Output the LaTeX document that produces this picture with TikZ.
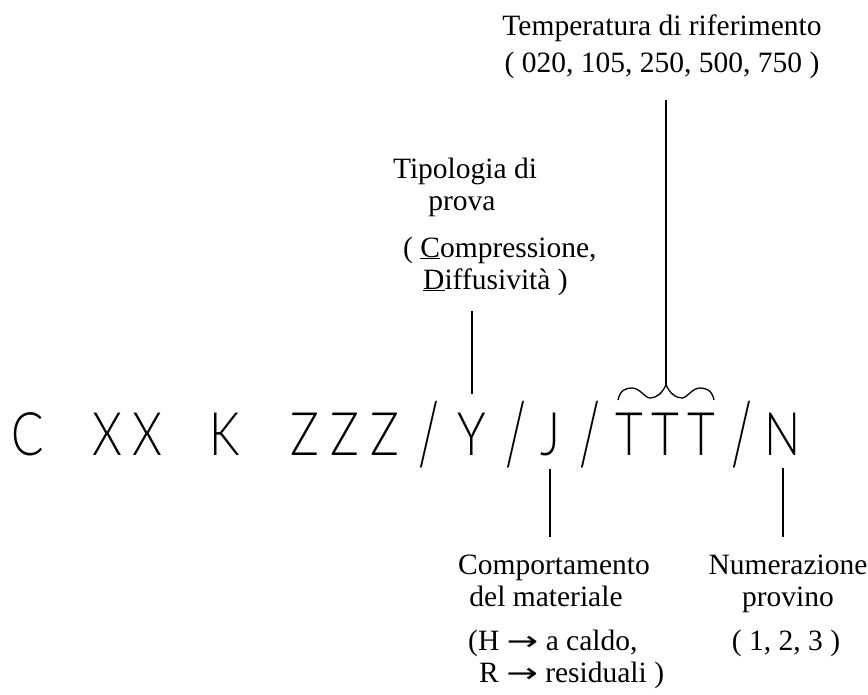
\documentclass[tikz,border=0pt]{standalone}
\usepackage{fontspec}
\usepackage{graphicx}
\setmainfont{Liberation Serif}
\newfontfamily\arrowfont{DejaVu Sans}
\IfFontExistsTF{Lato Light}
  {\newfontfamily\cadfont{Lato Light}[FakeStretch=0.8]}
  {\newfontfamily\cadfont{DejaVu Sans}[FakeStretch=0.7]}
\usetikzlibrary{calc}
\newcommand{\cadslash}{\raisebox{-9pt}{\scalebox{1}[1.45]{/}}}
\newcommand{\freccia}{{\arrowfont\fontsize{27}{32}\selectfont\scalebox{1.4}[1]{→}}}

\begin{document}
\begin{tikzpicture}[x=1pt, y=-1pt,
    cad/.style={font=\cadfont\fontsize{60}{60}\selectfont, inner sep=0pt, anchor=base},
    lbl/.style={font=\fontsize{29.5}{32}\selectfont, inner sep=0pt, anchor=base},
    lbll/.style={lbl, anchor=base west},
    lead/.style={line width=1.3pt}
  ]
  \useasboundingbox (0,0) rectangle (868,694);

  % --- codice del provino ---
  \node[cad] (c)  at (27.5,455) {C};
  \node[cad] (x1) at (107,455) {X};
  \node[cad] (x2) at (147,455) {X};
  \node[cad] (k)  at (225,455) {K};
  \node[cad] (z1) at (304.5,455) {Z};
  \node[cad] (z2) at (345,455) {Z};
  \node[cad] (z3) at (385,455) {Z};
  \node[cad] (s1) at (429,455) {\cadslash};
  \node[cad] (y)  at (472,455) {Y};
  \node[cad] (s2) at (516,455) {\cadslash};
  \node[cad] (j)  at (550,455) {J};
  \node[cad] (s3) at (590,455) {\cadslash};
  \node[cad] (t1) at (629,455) {T};
  \node[cad] (t2) at (665,455) {T};
  \node[cad] (t3) at (701.5,455) {T};
  \node[cad] (s4) at (741.5,455) {\cadslash};
  \node[cad] (n)  at (783,455) {N};

  % graffa sopra TTT
  \coordinate (tip) at (666,385);
  \draw[lead] (618,400) .. controls (620,390) and (626,388) .. (632,388)
    .. controls (640,388) and (645,398) .. (650,398)
    .. controls (657,398) and (662,393) .. (tip)
    .. controls (670,393) and (675,398) .. (682,398)
    .. controls (687,398) and (692,388) .. (700,388)
    .. controls (706,388) and (712,390) .. (714,400);

  % --- etichette ---
  \node[lbl] (temp) at (662,35) {Temperatura di riferimento};
  \node[lbl] (tempval) at (662,72) {( 020, 105, 250, 500, 750 )};

  \node[lbl] (tip1) at (465,178) {Tipologia di};
  \node[lbl] (tip2) at (462,210) {prova};
  \node[lbll] (tip3) at (403,257) {( \underline{C}ompressione,};
  \node[lbll] (tip4) at (423,289) {\underline{D}iffusività )};

  \node[lbl] (comp1) at (554,574) {Comportamento};
  \node[lbl] (comp2) at (546,606) {del materiale};
  \node[lbll] (comp3) at (468,650) {(H \freccia{} a caldo,};
  \node[lbll] (comp4) at (479,682) {R \freccia{} residuali )};

  \node[lbl] (num1) at (788,574) {Numerazione};
  \node[lbl] (num2) at (788,606) {provino};
  \node[lbl] (num3) at (786,650) {( 1, 2, 3 )};

  % --- richiami ---
  \draw[lead, shorten <=22pt] (tempval.south -| tip) -- (tip);
  \draw[lead, shorten <=16pt, shorten >=18pt] (tip4.south -| y) -- (y.north);
  \draw[lead, shorten <=13pt, shorten >=17pt] (j.south) -- (comp1.north -| j);
  \draw[lead, shorten <=13pt, shorten >=17pt] (n.south) -- (num1.north -| n);
\end{tikzpicture}
\end{document}
